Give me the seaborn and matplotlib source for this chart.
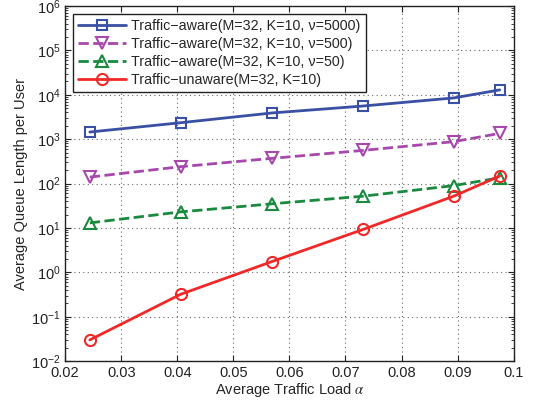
import matplotlib
matplotlib.use("Agg")
import matplotlib.pyplot as plt
import seaborn as sns
import pandas as pd
import numpy as np
from matplotlib.ticker import LogLocator, NullFormatter

sns.set_style("ticks")
plt.rcParams['font.family'] = ['Liberation Sans', 'DejaVu Sans']
plt.rcParams['mathtext.fontset'] = 'stix'

load = [0.0244, 0.0406, 0.0569, 0.0732, 0.0893, 0.0975]
aware_5000 = [1450, 2350, 3900, 5600, 8500, 12900]
aware_500 = [140, 240, 370, 560, 880, 1350]
aware_50 = [13, 23, 35, 52, 90, 135]
unaware = [0.030, 0.32, 1.75, 9.3, 52, 148]

labels = ["Traffic\u2212aware(M=32, K=10, \u03bd=5000)",
          "Traffic\u2212aware(M=32, K=10, \u03bd=500)",
          "Traffic\u2212aware(M=32, K=10, \u03bd=50)",
          "Traffic\u2212unaware(M=32, K=10)"]
series = [aware_5000, aware_500, aware_50, unaware]
colors = ["#3A50A4", "#A848AC", "#1A8A3E", "#F02828"]
markers = ["s", "v", "^", "o"]
dashes = [None, (5, 3), (5, 3), None]
msizes = [7, 9, 9, 8]

fig = plt.figure(figsize=(5.34, 4.03), dpi=100)
ax = fig.add_axes([0.122, 0.104, 0.840, 0.881])

for lab, ys, c, m, d, ms in zip(labels, series, colors, markers, dashes, msizes):
    df = pd.DataFrame({"x": load, "y": ys})
    extra = {} if d is None else {"dashes": d}
    sns.lineplot(data=df, x="x", y="y", ax=ax, color=c, marker=m, markersize=ms,
                 markerfacecolor="none", markeredgecolor=c, markeredgewidth=1.5,
                 linewidth=2.0, label=lab,
                 linestyle="-" if d is None else "--", **extra)

ax.set_yscale("log")
ax.set_xlim(0.02, 0.1)
ax.set_ylim(1e-2, 1e6)
ax.set_xticks(np.arange(0.02, 0.1001, 0.01))
ax.set_xticklabels(["0.02", "0.03", "0.04", "0.05", "0.06", "0.07", "0.08", "0.09", "0.1"])
ax.yaxis.set_major_locator(LogLocator(base=10, numticks=20))
ax.yaxis.set_minor_locator(LogLocator(base=10, subs=np.arange(2, 10), numticks=50))
ax.yaxis.set_minor_formatter(NullFormatter())

ax.tick_params(which="both", direction="in", top=True, right=True, labelsize=10.5, colors="#222222")
ax.tick_params(which="major", length=4, width=0.8)
ax.tick_params(which="minor", length=2, width=0.6)
ax.grid(True, which="major", linestyle=(0, (1, 3)), color="#666666", linewidth=0.8)
for s in ax.spines.values():
    s.set_linewidth(1.0)
    s.set_color("#222222")

ax.set_xlabel("Average Traffic Load $\\alpha$", fontsize=10.5, labelpad=1)
ax.set_ylabel("Average Queue Length per User", fontsize=10.5, labelpad=2)

leg = ax.legend(loc="upper left", bbox_to_anchor=(0.012, 0.985), fontsize=10.3,
                frameon=True, fancybox=False, edgecolor="#222222", framealpha=1,
                handlelength=3.3, borderpad=0.35, labelspacing=0.28, handletextpad=0.4,
                borderaxespad=0.2)
leg.get_frame().set_linewidth(1.0)

fig.savefig("out.png", dpi=100)
